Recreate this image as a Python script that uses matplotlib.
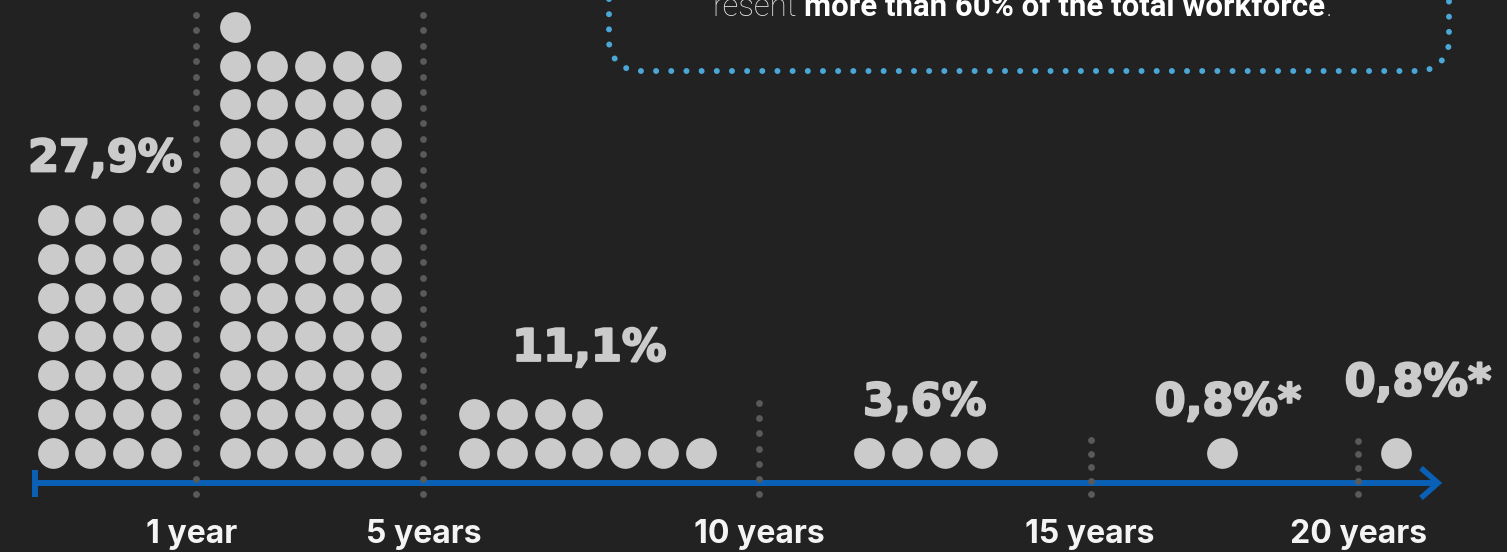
import numpy as np
import matplotlib.pyplot as plt
import matplotlib.patheffects as pe

# share of the workforce by length of service (one dot ~ one percent)
groups = ["< 1 year", "1-5 years", "5-10 years", "10-15 years", "15-20 years", "> 20 years"]
shares = [27.9, 55.8, 11.1, 3.6, 0.8, 0.8]
share_labels = ["27,9%", None, "11,1%", "3,6%", "0,8%*", "0,8%*"]
boundaries = ["1 year", "5 years", "10 years", "15 years", "20 years"]

BG = "#222222"
DOT = "#cbcbcb"
DIVIDER = "#5a5a5a"
AXIS_BLUE = "#0a60b5"
BOX_BLUE = "#4aa7d6"

# layout in pixel space
W, H = 1507, 552
grid_cols = [4, 5, 7, 4, 1, 1]
grid_left = [52.5, 234.5, 474, 869, 1222, 1396]
label_dx = [-4, 0, 2, -1, 6, 22]
label_gap = [49, 49, 53, 37.5, 37.5, 57]
base_y = 452.5
pitch_x, pitch_y = 37.8, 38.7
divider_x = [196, 422.5, 759, 1091, 1358]
divider_top = [15, 15, 403, 440, 441]
divider_n = [32, 32, 7, 5, 5]
tick_x = [191.5, 423.5, 759, 1090, 1358]
axis_y = 483

fig = plt.figure(figsize=(W / 100, H / 100), dpi=100, facecolor=BG)
ax = fig.add_axes([0, 0, 1, 1])
ax.set_facecolor(BG)
ax.set_xlim(0, W)
ax.set_ylim(H, 0)
ax.axis("off")

# heavier strokes for the percentage labels
heavy = [pe.Stroke(linewidth=1.6, foreground=DOT), pe.Normal()]

# dot grids, filled from the bottom row, left to right
for k, share in enumerate(shares):
    n = int(round(share))
    cols = grid_cols[k]
    idx = np.arange(n)
    xs = grid_left[k] + (idx % cols) * pitch_x
    ys = base_y - (idx // cols) * pitch_y
    ax.scatter(xs, ys, s=490, color=DOT, linewidths=0, zorder=3)

    if share_labels[k]:
        rows = (n - 1) // cols
        cx = grid_left[k] + (min(cols, n) - 1) / 2 * pitch_x + label_dx[k]
        cy = base_y - rows * pitch_y - label_gap[k]
        ax.text(cx, cy, share_labels[k], ha="center", va="baseline",
                fontsize=32, fontweight="bold", color=DOT,
                family="DejaVu Sans", zorder=4, path_effects=heavy)

# time axis with start bar and chevron head
ax.plot([35, 1437], [axis_y, axis_y], color=AXIS_BLUE, lw=4.3,
        solid_capstyle="butt", zorder=2)
ax.plot([35, 35], [470, 497], color=AXIS_BLUE, lw=4.3,
        solid_capstyle="butt", zorder=2)
ax.plot([1421, 1438, 1421], [468, 483, 498], color=AXIS_BLUE, lw=4.0,
        solid_joinstyle="miter", solid_capstyle="butt", zorder=2)

# dotted boundaries between service bands
for x, top, n in zip(divider_x, divider_top, divider_n):
    ys = np.linspace(top, 494, n)
    ax.scatter(np.full(n, x), ys, s=24, color=DIVIDER, linewidths=0, zorder=2.5)

for x, lab in zip(tick_x, boundaries):
    ax.text(x, 543, lab, ha="center", va="baseline", fontsize=23,
            fontweight="bold", color="#f4f4f4", family="Inter")

# dotted rounded frame around the note
r = 30
left, right, bottom, top = 609, 1449, 71, -80
t = np.linspace(np.pi, np.pi / 2, 20)
arc_l = np.column_stack([left + r + r * np.cos(t), bottom - r + r * np.sin(t)])
t = np.linspace(np.pi / 2, 0, 20)
arc_r = np.column_stack([right - r + r * np.cos(t), bottom - r + r * np.sin(t)])
frame = np.vstack([[left, top], arc_l, arc_r, [right, top]])
ax.plot(frame[:, 0], frame[:, 1], color=BOX_BLUE, lw=4.3,
        linestyle=(0, (0.01, 2.53)), dash_capstyle="round", zorder=2)

note = ax.text(712, 16, "resent", ha="left", va="baseline", fontsize=22.5,
               fontweight="light", color="#e6e6e6", family="Roboto")
bold = ax.annotate("more than 60% of the total workforce", xy=(1, 0),
                   xycoords=note, xytext=(5.5, 0), textcoords="offset points",
                   ha="left", va="bottom", fontsize=22.5, fontweight="bold",
                   color="white", family="Roboto")
ax.annotate(".", xy=(1, 0), xycoords=bold, ha="left", va="bottom",
            fontsize=22.5, fontweight="light", color="#e6e6e6", family="Roboto")

fig.savefig("out.png", dpi=100, facecolor=BG)
